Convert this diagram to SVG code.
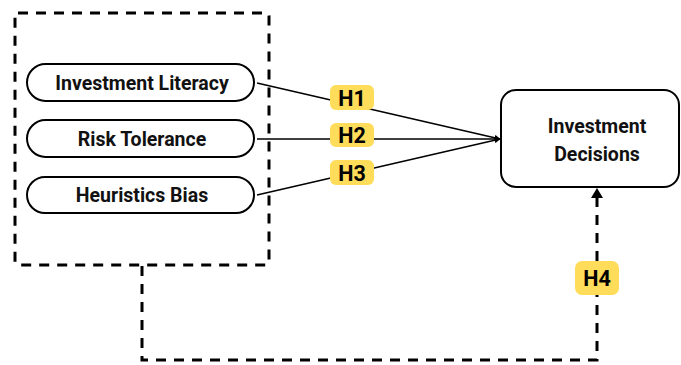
<svg xmlns="http://www.w3.org/2000/svg" width="681" height="365" viewBox="0 0 681 365">
<style>
.pill{fill:#fff;stroke:#000;stroke-width:2}
.lbl{font-family:Roboto,"Liberation Sans",sans-serif;font-weight:bold;font-size:19.5px;fill:#111;text-anchor:middle;dominant-baseline:central}
.h{fill:#FFDC5A}
.ht{font-family:Roboto,"Liberation Sans",sans-serif;font-weight:bold;font-size:21.5px;fill:#000;text-anchor:middle;dominant-baseline:central}
.dash{fill:none;stroke:#000;stroke-width:3;stroke-dasharray:10 8}
.ln{fill:none;stroke:#000;stroke-width:1.5}
</style>
<defs>
<marker id="a" viewBox="0 0 10 10" refX="9" refY="5" markerWidth="4" markerHeight="4" orient="auto"><path d="M0,0L10,5L0,10z" fill="#000"/></marker>
</defs>
<g id="group-box"><rect x="15" y="13" width="254" height="252" rx="3" class="dash"/></g>
<g id="connectors">
<path class="ln" d="M257,83L500,139" marker-end="url(#a)"/>
<path class="ln" d="M257,139L500,139" marker-end="url(#a)"/>
<path class="ln" d="M257,195L500,139" marker-end="url(#a)"/>
<path class="dash" d="M142,266V360H597V196"/>
<path d="M591,198L597,188L603,198z" fill="#000"/>
</g>
<g id="investment-literacy"><rect class="pill" x="27" y="64" width="227" height="37" rx="18.5"/><text class="lbl" x="142" y="83">Investment Literacy</text></g>
<g id="risk-tolerance"><rect class="pill" x="27" y="120" width="227" height="37" rx="18.5"/><text class="lbl" x="142" y="139">Risk Tolerance</text></g>
<g id="heuristics-bias"><rect class="pill" x="27" y="177" width="227" height="36" rx="18"/><text class="lbl" x="142" y="195">Heuristics Bias</text></g>
<g id="investment-decisions"><rect class="pill" x="501" y="90" width="178" height="97" rx="15"/><text class="lbl" x="597" y="126">Investment</text><text class="lbl" x="597" y="154">Decisions</text></g>
<g id="h1"><rect class="h" x="330" y="85" width="44" height="25" rx="6"/><text class="ht" x="352" y="98">H1</text></g>
<g id="h2"><rect class="h" x="330" y="123" width="44" height="24" rx="6"/><text class="ht" x="352" y="135.5">H2</text></g>
<g id="h3"><rect class="h" x="330" y="160" width="44" height="25" rx="6"/><text class="ht" x="352" y="173">H3</text></g>
<g id="h4"><rect class="h" x="575" y="261" width="44" height="34" rx="7"/><text class="ht" x="597" y="278.5">H4</text></g>
</svg>
